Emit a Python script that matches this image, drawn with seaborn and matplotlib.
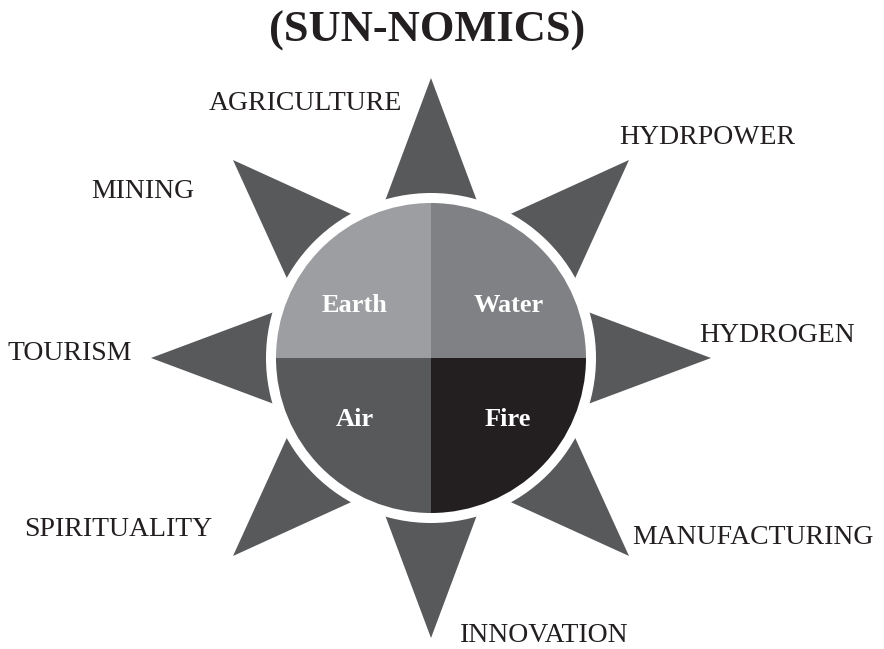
import numpy as np
import matplotlib
matplotlib.use("Agg")
import matplotlib.pyplot as plt
from matplotlib.patches import Polygon, Wedge, Circle
import seaborn as sns

# data
ray_labels = ["HYDROGEN", "MANUFACTURING", "INNOVATION", "SPIRITUALITY",
              "TOURISM", "MINING", "AGRICULTURE", "HYDRPOWER"]
ray_angles = [0, 45, 90, 135, 180, 225, 270, 315]   # degrees, y axis points down
quad_names = ["Fire", "Air", "Earth", "Water"]
quad_start = [0, 90, 180, 270]
title = "(SUN-NOMICS)"

sns.set_theme(style="white")
plt.rcParams['font.family'] = ['Liberation Serif', 'DejaVu Serif']

quad_colors = ["#231f20", "#58595b", "#9d9ea1", "#808184"]
ray_color = "#58595b"
text_color = "#231f20"

# label anchor points in pixel space
label_pos = {
    "HYDROGEN": (777, 336), "MANUFACTURING": (753, 538), "INNOVATION": (544, 636),
    "SPIRITUALITY": (118, 529), "TOURISM": (70, 353), "MINING": (143, 192),
    "AGRICULTURE": (305, 103), "HYDRPOWER": (707, 138),
}
quad_pos = {"Earth": (354, 305), "Water": (509, 305), "Air": (355, 419), "Fire": (508, 419)}

fig = plt.figure(figsize=(8.84, 6.49), dpi=100)
ax = fig.add_axes([0, 0, 1, 1])
ax.set_xlim(0, 884)
ax.set_ylim(649, 0)
ax.set_aspect("equal")
ax.axis("off")

cx, cy = 431, 358
r_tip, r_base, half_w = 280, 150, 48.6

for ang in ray_angles:
    t = np.deg2rad(ang)
    d = np.array([np.cos(t), np.sin(t)])
    n = np.array([-d[1], d[0]])
    c = np.array([cx, cy])
    tip = c + r_tip * d
    b1 = c + r_base * d + half_w * n
    b2 = c + r_base * d - half_w * n
    ax.add_patch(Polygon([tip, b1, b2], closed=True, color=ray_color, lw=0))

ax.add_patch(Circle((cx, cy), 165, color="white", lw=0, zorder=2))

for name, start, col in zip(quad_names, quad_start, quad_colors):
    ax.add_patch(Wedge((cx, cy), 155, start, start + 90, color=col, lw=0, zorder=3))
    x, y = quad_pos[name]
    ax.text(x, y, name, color="white", fontsize=19, fontweight="bold",
            ha="center", va="center", zorder=4)

for lab in ray_labels:
    x, y = label_pos[lab]
    ax.text(x, y, lab, color=text_color, fontsize=20, ha="center", va="center")

ax.text(427, 31, title, color=text_color, fontsize=32, fontweight="bold",
        ha="center", va="center")

fig.savefig("out.png", dpi=100, facecolor="white")
